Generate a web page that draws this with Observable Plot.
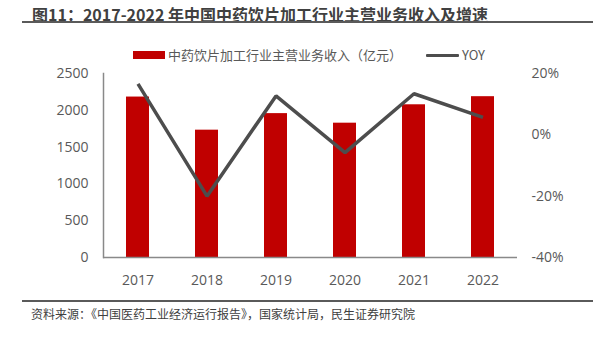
<!DOCTYPE html>
<html><head><meta charset="utf-8">
<script src="https://cdn.jsdelivr.net/npm/d3@7"></script>
<script src="https://cdn.jsdelivr.net/npm/@observablehq/plot@0.6"></script>
<style>
body{margin:0;background:#fff;}
#wrap{position:relative;width:600px;height:337px;overflow:hidden;font-family:"Microsoft YaHei","Noto Sans CJK SC",sans-serif;}
#title{position:absolute;left:32px;top:2px;font-size:16px;font-weight:bold;color:#404040;white-space:nowrap;}
#tline{position:absolute;left:22px;top:21px;width:571px;height:2px;background:#5a5a5a;}
.leg{position:absolute;font-size:13px;color:#595959;white-space:nowrap;line-height:16px;}
#chart{position:absolute;left:0;top:60px;}
#fline{position:absolute;left:22px;top:300px;width:571px;height:2px;background:#5a5a5a;}
#foot{position:absolute;left:31px;top:305px;font-size:12px;color:#404040;white-space:nowrap;}
</style></head>
<body>
<div id="wrap">
  <div id="title">图11：2017-2022 年中国中药饮片加工行业主营业务收入及增速</div>
  <div id="tline"></div>
  <div style="position:absolute;left:133px;top:51px;width:32px;height:8px;background:#c00000"></div>
  <div class="leg" style="left:168px;top:47px">中药饮片加工行业主营业务收入（亿元）</div>
  <div style="position:absolute;left:426px;top:54px;width:33px;height:3px;background:#4d4d4d;border-radius:1px"></div>
  <div class="leg" style="left:462px;top:47px">YOY</div>
  <div id="chart"></div>
  <div id="fline"></div>
  <div id="foot">资料来源：《中国医药工业经济运行报告》，国家统计局，民生证券研究院</div>
</div>
<script>
const years = ["2017","2018","2019","2020","2021","2022"];
const revenue = [2180, 1730, 1955, 1825, 2075, 2185];
const yoy = [16.6, -20.0, 12.7, -5.8, 13.4, 5.7];
const leftTicks = [0, 500, 1000, 1500, 2000, 2500];
const rightTicks = [-40, -20, 0, 20];

const rMin = -40, rMax = 20, lMax = 2500;
const toLeft = v => (v - rMin) / (rMax - rMin) * lMax;
const fromLeft = v => Math.round(v / lMax * (rMax - rMin) + rMin);

const rows = years.map((y, i) => ({year: y, rev: revenue[i], yoy: yoy[i]}));

const chart = Plot.plot({
  width: 600,
  height: 235,
  marginLeft: 103,
  marginRight: 83,
  marginTop: 13,
  marginBottom: 38,
  style: {fontFamily: "'Open Sans', 'Noto Sans CJK SC', sans-serif", fontSize: "14px", color: "#595959", background: "transparent"},
  x: {domain: years, paddingInner: 0.67, paddingOuter: 0.335},
  y: {domain: [0, lMax]},
  marks: [
    Plot.barY(rows, {x: "year", y: "rev", fill: "#c00000"}),
    Plot.ruleY([0], {stroke: "#898989", strokeWidth: 1.5}),
    Plot.frame({anchor: "left", stroke: "#898989", strokeWidth: 1.5}),
    Plot.line(rows, {x: "year", y: d => toLeft(d.yoy), stroke: "#4d4d4d", strokeWidth: 3.5, strokeLinejoin: "miter", strokeLinecap: "butt"}),
    Plot.axisX({tickSize: 0, tickPadding: 18, label: null, fill: "#595959"}),
    Plot.axisY({anchor: "left", ticks: leftTicks, tickFormat: d => String(d), tickSize: 0, tickPadding: 15, label: null, fill: "#595959"}),
    Plot.axisY({anchor: "right", ticks: rightTicks.map(toLeft), tickFormat: v => fromLeft(v) + "%", tickSize: 0, tickPadding: 14, label: null, fill: "#595959", textAnchor: "start"})
  ]
});
document.getElementById("chart").appendChild(chart);
</script>
</body></html>
